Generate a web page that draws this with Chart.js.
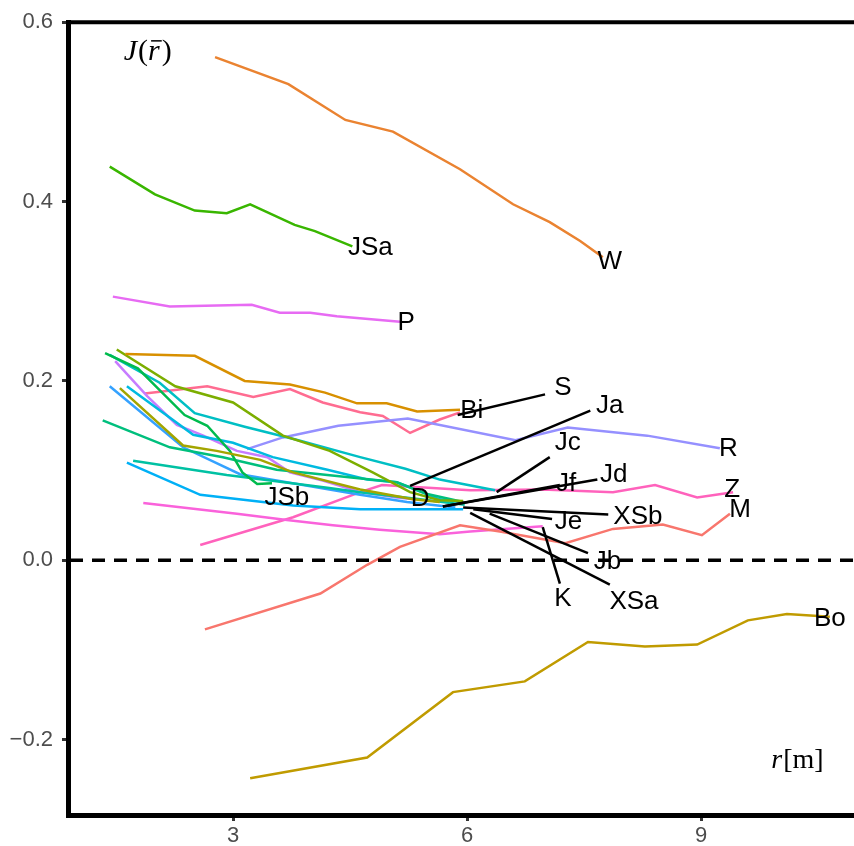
<!DOCTYPE html>
<html>
<head>
<meta charset="utf-8">
<script src="https://cdn.jsdelivr.net/npm/chart.js@4/dist/chart.umd.min.js"></script>
<style>
  html, body { margin: 0; padding: 0; background: #fff; }
</style>
</head>
<body>
<canvas id="jChart" width="854" height="846"></canvas>
<script>
// values: r [m] and J(r) for each site
const W_r = [2.77, 3.71, 4.44, 5.05, 5.91, 6.59, 7.06, 7.45, 7.74];
const W_J = [0.561, 0.531, 0.491, 0.478, 0.436, 0.397, 0.377, 0.356, 0.338];
const JSa_r = [1.42, 2.00, 2.51, 2.92, 3.22, 3.79, 4.05, 4.53];
const JSa_J = [0.439, 0.408, 0.390, 0.387, 0.397, 0.374, 0.367, 0.350];
const P_r = [1.46, 2.19, 2.79, 3.24, 3.60, 3.99, 4.33, 5.14];
const P_J = [0.294, 0.283, 0.284, 0.285, 0.276, 0.276, 0.272, 0.266];
const Bi_r = [1.62, 2.51, 3.15, 3.73, 4.18, 4.59, 4.97, 5.36, 5.91];
const Bi_J = [0.230, 0.228, 0.200, 0.196, 0.187, 0.175, 0.175, 0.166, 0.168];
const S_r = [1.87, 2.67, 3.26, 3.73, 4.15, 4.63, 4.92, 5.27, 5.65, 5.91];
const S_J = [0.186, 0.194, 0.182, 0.191, 0.176, 0.165, 0.161, 0.142, 0.157, 0.165];
const R_r = [3.18, 3.64, 4.35, 5.24, 6.62, 7.29, 8.31, 9.24];
const R_J = [0.124, 0.137, 0.150, 0.158, 0.134, 0.148, 0.139, 0.125];
const Z_r = [2.58, 3.77, 4.63, 4.91, 6.04, 6.97, 7.87, 8.41, 8.95, 9.41];
const Z_J = [0.017, 0.048, 0.076, 0.084, 0.078, 0.079, 0.076, 0.084, 0.070, 0.076];
const M_r = [2.64, 4.12, 4.72, 5.14, 5.91, 6.42, 7.26, 7.87, 8.51, 9.01, 9.37];
const M_J = [-0.077, -0.037, -0.005, 0.015, 0.039, 0.032, 0.019, 0.035, 0.040, 0.028, 0.052];
const Bo_r = [3.22, 4.72, 5.82, 6.74, 7.55, 8.28, 8.95, 9.60, 10.10, 10.65];
const Bo_J = [-0.243, -0.220, -0.147, -0.135, -0.091, -0.096, -0.094, -0.067, -0.060, -0.063];
const K_r = [1.85, 3.05, 3.69, 4.28, 4.88, 5.65, 6.04, 6.97];
const K_J = [0.064, 0.052, 0.045, 0.039, 0.034, 0.029, 0.032, 0.038];
const D_r = [1.49, 1.90, 2.28, 2.62, 3.05, 3.44, 3.73, 4.15, 4.63, 5.10, 5.33];
const D_J = [0.222, 0.183, 0.151, 0.139, 0.122, 0.115, 0.098, 0.089, 0.076, 0.070, 0.068];
const JSb_r = [1.36, 1.78, 2.38, 2.67, 2.96, 3.12, 3.31, 3.50];
const JSb_J = [0.231, 0.214, 0.162, 0.150, 0.122, 0.098, 0.085, 0.086];
const Jc_r = [1.42, 2.06, 2.51, 3.15, 3.79, 4.63, 5.21, 5.65, 6.36];
const Jc_J = [0.229, 0.198, 0.164, 0.149, 0.135, 0.115, 0.102, 0.090, 0.078];
const Ja_r = [1.51, 2.26, 3.00, 3.64, 4.24, 4.79, 5.27, 5.65, 5.95];
const Ja_J = [0.235, 0.194, 0.176, 0.139, 0.122, 0.098, 0.076, 0.067, 0.066];
const Jd_r = [1.42, 2.36, 3.09, 3.69, 4.63, 5.23, 5.85];
const Jd_J = [0.194, 0.126, 0.096, 0.087, 0.073, 0.065, 0.059];
const Jb_r = [1.55, 2.36, 2.79, 3.35, 3.77, 4.63, 5.31, 5.65];
const Jb_J = [0.192, 0.128, 0.122, 0.112, 0.098, 0.079, 0.068, 0.065];
const Jf_r = [1.64, 2.49, 3.00, 3.51, 4.21, 4.72, 5.10, 5.36, 5.65, 5.95];
const Jf_J = [0.194, 0.140, 0.131, 0.115, 0.101, 0.090, 0.087, 0.078, 0.068, 0.065];
const Je_r = [1.33, 2.19, 2.87, 3.56, 4.21, 5.10, 5.49, 5.95];
const Je_J = [0.156, 0.126, 0.115, 0.101, 0.095, 0.087, 0.074, 0.065];
const XSb_r = [1.72, 2.92, 4.21, 4.63, 5.40, 5.97];
const XSb_J = [0.111, 0.095, 0.081, 0.076, 0.068, 0.062];
const XSa_r = [1.64, 2.58, 3.77, 4.63, 5.14, 5.95];
const XSa_J = [0.109, 0.073, 0.061, 0.057, 0.057, 0.057];

// tick labels
const xTickValues = [3, 6, 9];
const xTickLabels = ['3', '6', '9'];
const yTickValues = [-0.2, 0, 0.2, 0.4, 0.6];
const yTickLabels = ['\u22120.2', '0.0', '0.2', '0.4', '0.6'];

// text labels and where they sit (data units)
const labelNames = ['W', 'JSa', 'P', 'Bi', 'S', 'Ja', 'R', 'Jc', 'Jd', 'Jf', 'Z', 'M', 'XSb', 'Je', 'JSb', 'D', 'Jb', 'K', 'XSa', 'Bo'];
const labelR = [7.83, 4.76, 5.22, 6.06, 7.23, 7.83, 9.35, 7.29, 7.88, 7.27, 9.40, 9.50, 8.19, 7.30, 3.69, 5.40, 7.80, 7.23, 8.14, 10.65];
const labelJ = [0.333, 0.348, 0.265, 0.167, 0.192, 0.172, 0.124, 0.131, 0.095, 0.085, 0.079, 0.056, 0.049, 0.043, 0.070, 0.068, -0.002, -0.043, -0.046, -0.065];

// leader segments from line ends to their labels
const leaderNames = ['S', 'Ja', 'Jc', 'Jf', 'Jd', 'XSb', 'Je', 'Jb', 'XSa', 'K'];
const leaderFromR = [5.88, 5.27, 6.38, 5.69, 5.69, 5.95, 6.08, 6.29, 6.04, 6.97];
const leaderFromJ = [0.162, 0.083, 0.076, 0.060, 0.060, 0.059, 0.057, 0.052, 0.053, 0.037];
const leaderToR = [7.00, 7.58, 7.06, 7.19, 7.67, 7.81, 7.09, 7.55, 7.83, 7.19];
const leaderToJ = [0.185, 0.167, 0.115, 0.084, 0.090, 0.051, 0.046, 0.008, -0.027, -0.026];

const series = [
  ['M', M_r, M_J], ['W', W_r, W_J], ['Bi', Bi_r, Bi_J], ['Bo', Bo_r, Bo_J],
  ['Jb', Jb_r, Jb_J], ['Ja', Ja_r, Ja_J], ['JSa', JSa_r, JSa_J], ['JSb', JSb_r, JSb_J],
  ['Je', Je_r, Je_J], ['XSb', XSb_r, XSb_J], ['Jc', Jc_r, Jc_J], ['Jf', Jf_r, Jf_J],
  ['XSa', XSa_r, XSa_J], ['Jd', Jd_r, Jd_J], ['R', R_r, R_J], ['D', D_r, D_J],
  ['P', P_r, P_J], ['K', K_r, K_J], ['Z', Z_r, Z_J], ['S', S_r, S_J]
];
const colours = {
  M: '#F8766D', W: '#EA8331', Bi: '#D89000', Bo: '#C09B00', Jb: '#A3A500',
  Ja: '#7CAE00', JSa: '#39B600', JSb: '#00BB4E', Je: '#00BF7D', XSb: '#00C1A3',
  Jc: '#00BFC4', Jf: '#00BAE0', XSa: '#00B0F6', Jd: '#35A2FF', R: '#9590FF',
  D: '#C77CFF', P: '#E76BF3', K: '#FA62DB', Z: '#FF62BC', S: '#FF6C91'
};

const datasets = series.map(([name, rs, js]) => ({
  label: name,
  data: rs.map((r, i) => ({ x: r, y: js[i] })),
  borderColor: colours[name],
  borderWidth: 2.5,
  pointRadius: 0,
  tension: 0,
  fill: false
}));

const serif = '"Liberation Serif", "DejaVu Serif", serif';

const annotate = {
  id: 'annotate',
  afterDatasetsDraw(chart) {
    const { ctx, chartArea: a, scales: { x, y } } = chart;
    ctx.save();
    // top edge of the panel
    ctx.strokeStyle = '#000';
    ctx.lineWidth = 4;
    ctx.beginPath();
    ctx.moveTo(a.left - 2, a.top);
    ctx.lineTo(a.right, a.top);
    ctx.stroke();

    // dashed zero line
    const y0 = y.getPixelForValue(0);
    ctx.setLineDash([13, 9]);
    ctx.lineWidth = 3.5;
    ctx.beginPath();
    ctx.moveTo(a.left + 2, y0);
    ctx.lineTo(a.right, y0);
    ctx.stroke();
    ctx.setLineDash([]);

    // leaders
    ctx.lineWidth = 2.5;
    leaderNames.forEach((n, i) => {
      ctx.beginPath();
      ctx.moveTo(x.getPixelForValue(leaderFromR[i]), y.getPixelForValue(leaderFromJ[i]));
      ctx.lineTo(x.getPixelForValue(leaderToR[i]), y.getPixelForValue(leaderToJ[i]));
      ctx.stroke();
    });

    // labels
    ctx.fillStyle = '#000';
    ctx.font = '26px "Liberation Sans", Arial, sans-serif';
    ctx.textAlign = 'center';
    ctx.textBaseline = 'middle';
    labelNames.forEach((n, i) => {
      ctx.fillText(n, x.getPixelForValue(labelR[i]), y.getPixelForValue(labelJ[i]));
    });

    // axis titles inside the panel
    ctx.textAlign = 'left';
    ctx.textBaseline = 'alphabetic';
    let px = x.getPixelForValue(1.60);
    let py = y.getPixelForValue(0.558);
    ctx.font = 'italic 30px ' + serif;
    ctx.fillText('J', px, py);
    px += ctx.measureText('J').width + 1;
    ctx.font = '30px ' + serif;
    ctx.fillText('(', px, py);
    px += ctx.measureText('(').width;
    ctx.font = 'italic 30px ' + serif;
    ctx.fillText('r', px, py);
    const rw = ctx.measureText('r').width;
    ctx.lineWidth = 1.5;
    ctx.beginPath();
    ctx.moveTo(px + 3, py - 19);
    ctx.lineTo(px + rw + 2, py - 19);
    ctx.stroke();
    px += rw + 2;
    ctx.font = '30px ' + serif;
    ctx.fillText(')', px, py);

    px = x.getPixelForValue(9.90);
    py = y.getPixelForValue(-0.232);
    ctx.font = 'italic 28px ' + serif;
    ctx.fillText('r', px, py);
    px += ctx.measureText('r').width + 1;
    ctx.font = '28px ' + serif;
    ctx.fillText('[m]', px, py);
    ctx.restore();
  }
};

new Chart(document.getElementById('jChart').getContext('2d'), {
  type: 'line',
  data: { datasets },
  options: {
    responsive: false,
    animation: false,
    layout: { padding: { top: 17, right: 0, left: 0, bottom: 0 } },
    plugins: { legend: { display: false }, tooltip: { enabled: false } },
    scales: {
      x: {
        type: 'linear',
        min: 0.885,
        max: 10.96,
        afterFit: (s) => { s.height = 31; },
        afterBuildTicks: (s) => { s.ticks = xTickValues.map(v => ({ value: v })); },
        grid: { drawOnChartArea: false, drawTicks: true, tickLength: 6, lineWidth: 3, color: '#333' },
        border: { display: true, color: '#000', width: 5 },
        ticks: {
          padding: 2,
          color: '#4D4D4D',
          font: { family: '"Liberation Sans", Arial, sans-serif', size: 22 },
          callback: (v, i) => xTickLabels[i]
        }
      },
      y: {
        type: 'linear',
        min: -0.284,
        max: 0.6,
        afterFit: (s) => { s.width = 68; },
        afterBuildTicks: (s) => { s.ticks = yTickValues.map(v => ({ value: v })); },
        grid: { drawOnChartArea: false, drawTicks: true, tickLength: 6, lineWidth: 3, color: '#333' },
        border: { display: true, color: '#000', width: 5 },
        ticks: {
          padding: 9,
          color: '#4D4D4D',
          font: { family: '"Liberation Sans", Arial, sans-serif', size: 22 },
          callback: (v, i) => yTickLabels[i]
        }
      }
    }
  },
  plugins: [annotate]
});
</script>
</body>
</html>
